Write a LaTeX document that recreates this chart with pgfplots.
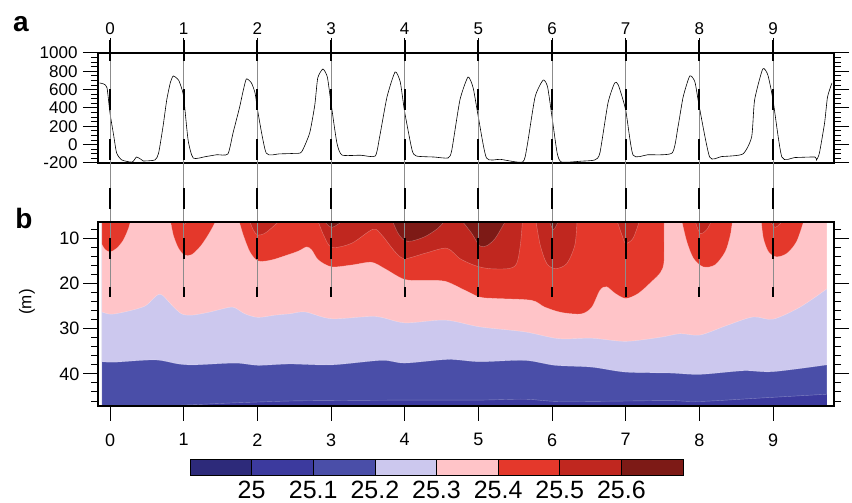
\documentclass[border=0pt]{standalone}
\usepackage{fontspec}
\setmainfont{Liberation Sans}
\usepackage{pgfplots}
\pgfplotsset{compat=1.18}
\definecolor{cA}{HTML}{2D2A7A}
\definecolor{cB}{HTML}{3C3A9E}
\definecolor{cC}{HTML}{4A4EA8}
\definecolor{cD}{HTML}{CCC8EE}
\definecolor{cE}{HTML}{FFC4C8}
\definecolor{cF}{HTML}{E4382B}
\definecolor{cG}{HTML}{C0271F}
\definecolor{cH}{HTML}{7D1A16}
\pgfplotsset{lay/.style={draw=white, draw opacity=0.35, line width=0.4pt, smooth, fill=#1}}
\begin{document}
\begin{tikzpicture}[x=1pt,y=1pt]
\path[use as bounding box] (0,0) rectangle (852,503);

% ---------------- panel a
\begin{axis}[
 at={(98pt,340pt)}, anchor=south west, scale only axis,
 width=736pt, height=110pt,
 xmin=-0.163, xmax=9.828, ymin=-200, ymax=1000,
 xtick={0,1,2,3,4,5,6,7,8,9}, xticklabels={0,1,2,3,4,5,6,7,8,9},
 xtick pos=right, xticklabel pos=right,
 ytick={-200,0,200,400,600,800,1000}, yticklabels={-200,0,200,400,600,800,1000},
 minor ytick={-150,-100,-50,50,100,150,250,300,350,450,500,550,650,700,750,850,900,950},
 ytick pos=both, yticklabel pos=left,
 tick align=outside, major tick length=15pt, minor tick length=7pt,
 axis line style={line width=1.3pt}, tick style={line width=1pt, black},
 tick label style={font=\fontsize{17}{17}\selectfont},
 yticklabel style={xshift=-2pt},
]
\addplot[black, line width=0.6pt, smooth, tension=0.35] coordinates {
(-0.14,673)(-0.08,660)(-0.04,618)(0.0,345)(0.05,100)(0.09,-91)(0.16,-167)(0.3,-190)(0.36,-135)(0.42,-160)(0.45,-178)(0.61,-167)(0.66,-91)(0.72,200)(0.77,487)(0.82,680)(0.86,749)(0.93,705)(0.97,620)(1.0,520)(1.06,51)(1.13,-146)(1.3,-130)(1.45,-110)(1.6,-102)(1.67,127)(1.76,411)(1.8,560)(1.85,716)(1.92,673)(1.97,560)(2.01,345)(2.12,-91)(2.3,-100)(2.5,-95)(2.6,-80)(2.71,127)(2.78,433)(2.82,727)(2.89,825)(2.95,738)(3.0,455)(3.08,18)(3.15,-113)(3.4,-115)(3.6,-124)(3.66,84)(3.76,520)(3.87,793)(3.94,684)(4.0,356)(4.1,-58)(4.16,-124)(4.4,-135)(4.59,-145)(4.64,-58)(4.75,487)(4.86,738)(4.93,618)(5.0,302)(5.11,-145)(5.3,-160)(5.6,-190)(5.66,-25)(5.77,520)(5.88,705)(5.94,629)(6.0,302)(6.07,-91)(6.13,-190)(6.4,-180)(6.58,-167)(6.65,-91)(6.76,455)(6.85,673)(6.9,651)(7.0,378)(7.1,-113)(7.3,-110)(7.63,-91)(7.71,193)(7.78,520)(7.87,749)(7.94,684)(8.0,411)(8.14,-135)(8.3,-130)(8.59,-102)(8.71,84)(8.75,487)(8.86,825)(8.93,760)(9.0,487)(9.12,-135)(9.3,-140)(9.57,-135)(9.59,-167)(9.63,-91)(9.7,236)(9.74,520)(9.8,673)};
\end{axis}

% ---------------- panel b
\begin{axis}[
 at={(98pt,97pt)}, anchor=south west, scale only axis,
 width=736pt, height=184pt,
 xmin=-0.163, xmax=9.828, ymin=6.4, ymax=47.1, y dir=reverse,
 xtick={0,1,2,3,4,5,6,7,8,9}, xticklabels={0,1,2,3,4,5,6,7,8,9},
 xtick pos=left,
 ytick={10,20,30,40}, yticklabels={10,20,30,40},
 minor ytick={8,12,14,16,18,22,24,26,28,32,34,36,38,42,44,46},
 ytick pos=both, yticklabel pos=left,
 tick align=outside, major tick length=15pt, minor tick length=7pt,
 axis line style={line width=1.3pt}, tick style={line width=1pt, black},
 tick label style={font=\fontsize{18}{18}\selectfont},
 xticklabel style={yshift=-9pt},
 axis on top, clip mode=individual,
]
% base
\addplot[fill=cB, draw=none] coordinates {(-0.11,5)(9.73,5)(9.73,48)(-0.11,48)} -- cycle;
% blue3
\addplot[lay=cC] coordinates {(-0.11,47.6)(0.3,47.4)(0.7,47.1)(1.15,46.8)(1.7,46.4)(2.44,46.0)(3.0,45.9)(4.0,45.8)(5.0,45.8)(5.63,45.6)(6.09,46.1)(7.0,46.0)(7.6,45.9)(8.01,46.1)(8.87,45.3)(9.73,44.5)} -- (axis cs:9.73,5) -- (axis cs:-0.11,5) -- cycle;
% lavender
\addplot[lay=cD] coordinates {(-0.11,37.3)(0.07,37.4)(0.61,36.9)(0.93,37.8)(1.15,38.0)(1.70,37.6)(2.01,38.1)(2.44,37.8)(3.01,38.0)(3.69,37.0)(4.0,37.6)(4.59,36.8)(5.02,37.3)(5.63,37.0)(6.04,38.1)(6.54,38.5)(7.0,39.6)(7.6,39.8)(8.01,40.1)(8.60,39.3)(9.0,39.5)(9.73,38.0)} -- (axis cs:9.73,5) -- (axis cs:-0.11,5) -- cycle;
% pink
\addplot[lay=cE] coordinates {(-0.11,26.3)(0.02,26.8)(0.25,26.1)(0.475,25.0)(0.59,23.3)(0.66,22.4)(0.72,22.7)(0.84,24.8)(0.97,26.7)(1.11,27.0)(1.33,26.4)(1.61,25.3)(1.70,25.4)(1.83,26.7)(2.01,27.5)(2.24,27.0)(2.44,26.7)(2.65,26.3)(3.01,27.8)(3.60,27.3)(4.0,28.7)(4.55,28.1)(5.02,29.6)(5.63,30.7)(6.09,32.2)(6.54,32.1)(7.0,32.8)(7.47,31.9)(7.74,31.1)(8.01,31.4)(8.37,29.3)(8.73,27.4)(9.0,27.9)(9.37,25.2)(9.73,21.2)} -- (axis cs:9.73,5) -- (axis cs:-0.11,5) -- cycle;
% red
\addplot[lay=cF] coordinates {(-0.11,11.3)(-0.07,12.4)(0.0,13.0)(0.09,12.2)(0.18,10.4)(0.25,7.8)(0.28,6.0)} -- (axis cs:-0.11,6.0) -- cycle;
\addplot[lay=cF] coordinates {(0.82,6.0)(0.86,9.3)(0.93,12.2)(1.01,13.7)(1.11,13.6)(1.24,11.5)(1.36,8.5)(1.44,6.0)} -- cycle;
\addplot[lay=cF] coordinates {(1.75,6.0)(1.81,9.3)(1.90,13.0)(2.01,15.0)(2.19,14.8)(2.44,13.5)(2.56,12.8)(2.67,11.9)(2.74,12.6)(2.83,14.8)(3.01,16.3)(3.28,15.9)(3.55,15.3)(3.73,16.7)(4.0,19.1)(4.28,19.3)(4.55,19.5)(4.82,21.5)(5.02,23.0)(5.23,23.3)(5.72,23.7)(5.90,25.2)(6.13,26.4)(6.40,26.7)(6.54,25.2)(6.65,21.5)(6.74,20.7)(6.86,22.2)(7.0,23.3)(7.17,22.2)(7.35,19.6)(7.47,17.6)(7.52,15.0)(7.52,6.0)} -- cycle;
\addplot[lay=cF] coordinates {(7.76,6.0)(7.83,10.7)(7.92,14.4)(8.05,16.3)(8.21,15.9)(8.35,13.0)(8.42,9.3)(8.45,6.0)} -- cycle;
\addplot[lay=cF] coordinates {(8.84,6.0)(8.87,10.0)(8.94,13.0)(9.05,14.1)(9.19,13.3)(9.32,10.7)(9.42,6.0)} -- cycle;
% dark red
\addplot[lay=cG] coordinates {(0.96,6.0)(1.01,6.9)(1.06,6.0)} -- cycle;
\addplot[lay=cG] coordinates {(1.89,6.0)(1.95,8.3)(2.01,9.3)(2.12,8.7)(2.31,6.0)} -- cycle;
\addplot[lay=cG] coordinates {(2.82,6.0)(2.90,9.3)(3.01,12.0)(3.28,11.1)(3.57,8.0)(3.69,9.3)(3.87,13.0)(4.0,14.5)(4.28,13.3)(4.57,12.2)(4.75,14.5)(4.95,16.0)(5.14,16.7)(5.41,16.7)(5.52,15.6)(5.57,11.5)(5.60,6.0)} -- cycle;
\addplot[lay=cG] coordinates {(5.78,6.0)(5.84,11.5)(5.93,15.6)(6.05,16.7)(6.20,15.6)(6.31,11.5)(6.34,6.0)} -- cycle;
\addplot[lay=cG] coordinates {(6.88,6.0)(6.95,9.3)(7.0,11.1)(7.10,10.0)(7.19,6.0)} -- cycle;
\addplot[lay=cG] coordinates {(7.94,6.0)(8.01,8.9)(8.10,8.1)(8.17,6.0)} -- cycle;
\addplot[lay=cG] coordinates {(8.96,6.0)(9.03,7.6)(9.14,6.0)} -- cycle;
% maroon
\addplot[lay=cH] coordinates {(2.90,6.0)(3.01,7.6)(3.17,6.0)} -- cycle;
\addplot[lay=cH] coordinates {(3.83,6.0)(3.91,8.9)(4.0,10.5)(4.1,10.6)(4.28,9.6)(4.45,7.8)(4.55,6.0)} -- cycle;
\addplot[lay=cH] coordinates {(4.77,6.0)(4.91,8.9)(5.02,11.7)(5.12,11.6)(5.23,10.0)(5.34,7.0)(5.38,6.0)} -- cycle;
\addplot[lay=cH] coordinates {(5.96,6.0)(6.02,8.1)(6.09,6.0)} -- cycle;
% day lines
\pgfplotsinvokeforeach{0,1,2,3,4,5,6,7,8,9}{
 \draw[black!45, line width=0.6pt] (axis cs:#1,-33.86) -- (axis cs:#1,23.0);
 \draw[black, line width=2.2pt, dash pattern=on 21pt off 28.5pt] (axis cs:#1,-33.86) -- (axis cs:#1,23.0);
}
\end{axis}

% ---------------- colorbar
\begin{axis}[
 at={(190pt,28pt)}, anchor=south west, scale only axis,
 width=493pt, height=16pt,
 xmin=0, xmax=8, ymin=0, ymax=1,
 axis line style={draw=none}, ytick=\empty,
 xtick={1,2,3,4,5,6,7}, xticklabels={25,25.1,25.2,25.3,25.4,25.5,25.6},
 xtick pos=left, major tick length=0pt,
 tick label style={font=\fontsize{25}{25}\selectfont},
 xticklabel style={yshift=-3pt},
 clip=false,
]
\addplot[fill=cA, draw=black, line width=0.7pt] coordinates {(0,0)(1,0)(1,1)(0,1)} -- cycle;
\addplot[fill=cB, draw=black, line width=0.7pt] coordinates {(1,0)(2,0)(2,1)(1,1)} -- cycle;
\addplot[fill=cC, draw=black, line width=0.7pt] coordinates {(2,0)(3,0)(3,1)(2,1)} -- cycle;
\addplot[fill=cD, draw=black, line width=0.7pt] coordinates {(3,0)(4,0)(4,1)(3,1)} -- cycle;
\addplot[fill=cE, draw=black, line width=0.7pt] coordinates {(4,0)(5,0)(5,1)(4,1)} -- cycle;
\addplot[fill=cF, draw=black, line width=0.7pt] coordinates {(5,0)(6,0)(6,1)(5,1)} -- cycle;
\addplot[fill=cG, draw=black, line width=0.7pt] coordinates {(6,0)(7,0)(7,1)(6,1)} -- cycle;
\addplot[fill=cH, draw=black, line width=0.7pt] coordinates {(7,0)(8,0)(8,1)(7,1)} -- cycle;
\end{axis}

\node[font=\fontsize{28}{28}\selectfont\bfseries] at (21,479) {a};
\node[font=\fontsize{28}{28}\selectfont\bfseries] at (24,285) {b};
\node[font=\fontsize{17}{17}\selectfont, rotate=90] at (27,201) {(m)};
\end{tikzpicture}
\end{document}
